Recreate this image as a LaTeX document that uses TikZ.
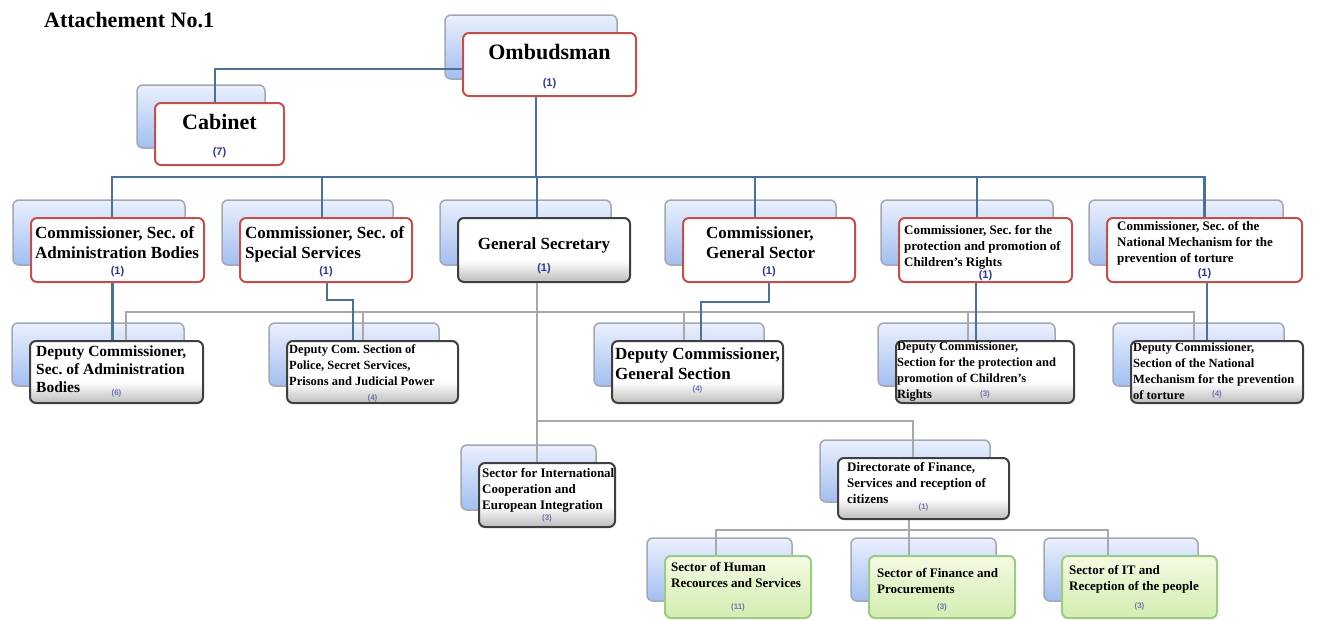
\documentclass[tikz,border=0pt]{standalone}
\usepackage{fontspec}
\setmainfont{Liberation Serif}
\newfontfamily\cntfont{Liberation Sans}
\usetikzlibrary{positioning}

\pgfdeclarelayer{back}
\pgfdeclarelayer{lines}
\pgfsetlayers{back,lines,main}

\definecolor{redline}{HTML}{C0504D}
\definecolor{darkline}{HTML}{3F3F3F}
\definecolor{boxgrey}{HTML}{BDBDBD}
\definecolor{greenline}{HTML}{9CCB86}
\definecolor{greentop}{HTML}{F4FAE3}
\definecolor{greenbot}{HTML}{D3EDB0}
\definecolor{backline}{HTML}{A2A7B3}
\definecolor{backtop}{HTML}{EAF0FD}
\definecolor{backbot}{HTML}{A3BEF0}
\definecolor{linkblue}{HTML}{4C7196}
\definecolor{linkgrey}{HTML}{A9A9A9}
\definecolor{cntblue}{HTML}{2F3A86}

% white box that turns grey towards its bottom edge
\pgfdeclareverticalshading{greyfade}{100bp}{color(0bp)=(boxgrey); color(25bp)=(boxgrey);
    color(42bp)=(white); color(100bp)=(white)}

\begin{document}
\frenchspacing
\begin{tikzpicture}[x=1pt, y=1pt,
    box/.style={rounded corners=6pt, line width=2pt, inner sep=0pt},
    redbox/.style={box, draw=redline, fill=white},
    greybox/.style={box, draw=darkline, shading=greyfade},
    greenbox/.style={box, draw=greenline, top color=greentop, bottom color=greenbot},
    backbox/.style={rounded corners=6pt, line width=1.5pt, draw=backline, top color=backtop, bottom color=backbot},
    blueline/.style={draw=linkblue, line width=2.4pt},
    greyline/.style={draw=linkgrey, line width=2pt},
    big/.style={font=\fontsize{22}{26}\selectfont\bfseries, inner sep=0pt},
    mid/.style={font=\fontsize{17}{20}\selectfont\bfseries, inner sep=0pt, align=left},
    small/.style={font=\fontsize{13}{16}\selectfont\bfseries, inner sep=0pt, align=left},
    cnt/.style={font=\cntfont\fontsize{11}{12}\selectfont\bfseries, text=cntblue, inner sep=0pt},
    tinycnt/.style={font=\cntfont\fontsize{8}{9}\selectfont\bfseries, text=cntblue!70, inner sep=0pt}
]

    \useasboundingbox (0,0) rectangle (1318,-619);

    % Title
    \node[big, anchor=base west] (title) at (44,-27) {Attachement No.1};

    % Top level
    \node[redbox, minimum width=173, minimum height=63] (omb) at (549.5,-64.5) {};
    \node[big, below=12pt of omb.north] (ombT) {Ombudsman};
    \node[cnt, above=8pt of omb.south] (ombN) {(1)};

    \node[redbox, minimum width=129, minimum height=62] (cab) at (219.5,-134) {};
    \node[big, below=12pt of cab.north] (cabT) {Cabinet};
    \node[cnt, above=8pt of cab.south] (cabN) {(7)};

    % Commissioners and General Secretary
    \node[redbox, minimum width=173, minimum height=64] (c1) at (117.5,-250) {};
    \node[mid, below right=9pt and 5pt of c1.north west] (c1T) {Commissioner, Sec. of\\Administration Bodies};
    \node[cnt, above=6pt of c1.south] (c1N) {(1)};

    \node[redbox, minimum width=172, minimum height=64] (c2) at (326,-250) {};
    \node[mid, below right=9pt and 6pt of c2.north west] (c2T) {Commissioner, Sec. of\\Special Services};
    \node[cnt, above=6pt of c2.south] (c2N) {(1)};

    \node[greybox, minimum width=172, minimum height=64] (gs) at (544,-250) {};
    \node[mid, below=20pt of gs.north] (gsT) {General Secretary};
    \node[cnt, above=9pt of gs.south] (gsN) {(1)};

    \node[redbox, minimum width=172, minimum height=64] (c4) at (769,-250) {};
    \node[mid, below right=9pt and 24pt of c4.north west] (c4T) {Commissioner,\\General Sector};
    \node[cnt, above=6pt of c4.south] (c4N) {(1)};

    \node[redbox, minimum width=173, minimum height=64] (c5) at (985.5,-250) {};
    \node[small, below right=8pt and 6pt of c5.north west] (c5T) {Commissioner, Sec. for the\\protection and promotion of\\Children's Rights};
    \node[cnt, above=2pt of c5.south] (c5N) {(1)};

    \node[redbox, minimum width=195, minimum height=64] (c6) at (1204.5,-250) {};
    \node[small, below right=4pt and 11pt of c6.north west] (c6T) {Commissioner, Sec. of the\\National Mechanism for the\\prevention of torture};
    \node[cnt, above=4pt of c6.south] (c6N) {(1)};

    % Deputies
    \node[greybox, minimum width=173, minimum height=62] (d1) at (116.5,-372) {};
    \node[font=\fontsize{15.5}{18}\selectfont\bfseries, inner sep=0pt, align=left, below right=6pt and 7pt of d1.north west] (d1T) {Deputy Commissioner,\\Sec. of Administration\\Bodies};
    \node[tinycnt, above=7pt of d1.south] (d1N) {(6)};

    \node[greybox, minimum width=171, minimum height=62] (d2) at (372.5,-372) {};
    \node[small, font=\fontsize{12.5}{16}\selectfont\bfseries, below right=4pt and 3pt of d2.north west] (d2T) {Deputy Com. Section of\\Police, Secret Services,\\Prisons and Judicial Power};
    \node[tinycnt, above=2pt of d2.south] (d2N) {(4)};

    \node[greybox, minimum width=171, minimum height=62] (d3) at (697.5,-372) {};
    \node[mid, below right=7pt and 4pt of d3.north west] (d3T) {Deputy Commissioner,\\General Section};
    \node[tinycnt, above=11pt of d3.south] (d3N) {(4)};

    \node[greybox, minimum width=178, minimum height=62] (d4) at (985,-372) {};
    \node[small, font=\fontsize{12.5}{16}\selectfont\bfseries, below right=1.5pt and 2pt of d4.north west] (d4T) {Deputy Commissioner,\\Section for the protection and\\promotion of Children's\\Rights};
    \node[tinycnt, above=6pt of d4.south] (d4N) {(3)};

    \node[greybox, minimum width=172, minimum height=62] (d5) at (1217,-372) {};
    \node[small, font=\fontsize{12.5}{16}\selectfont\bfseries, below right=2.5pt and 3pt of d5.north west] (d5T) {Deputy Commissioner,\\Section of the National\\Mechanism for the prevention\\of torture};
    \node[tinycnt, above=6pt of d5.south] (d5N) {(4)};

    % Under the General Secretary
    \node[greybox, minimum width=136, minimum height=64] (intl) at (547,-495) {};
    \node[small, below right=6pt and 4pt of intl.north west] (intlT) {Sector for International\\Cooperation and\\European Integration};
    \node[tinycnt, above=6pt of intl.south] (intlN) {(3)};

    \node[greybox, minimum width=171, minimum height=61] (dir) at (923.5,-488.5) {};
    \node[small, below right=5pt and 10pt of dir.north west] (dirT) {Directorate of Finance,\\Services and reception of\\citizens};
    \node[tinycnt, above=9pt of dir.south] (dirN) {(1)};

    % Sectors of the Directorate
    \node[greenbox, minimum width=146, minimum height=62] (hr) at (738,-587) {};
    \node[small, below right=7.5pt and 7pt of hr.north west] (hrT) {Sector of Human\\Recources and Services};
    \node[tinycnt, above=8pt of hr.south] (hrN) {(11)};

    \node[greenbox, minimum width=146, minimum height=62] (fin) at (942,-587) {};
    \node[small, below right=13.5pt and 9pt of fin.north west] (finT) {Sector of Finance and\\Procurements};
    \node[tinycnt, above=8pt of fin.south] (finN) {(3)};

    \node[greenbox, minimum width=155, minimum height=62] (it) at (1139.5,-587) {};
    \node[small, below right=10.5pt and 8pt of it.north west] (itT) {Sector of IT and\\Reception of the people};
    \node[tinycnt, above=9pt of it.south] (itN) {(3)};

    % Blue boxes behind
    \begin{pgfonlayer}{back}
        \foreach \n in {omb,cab,c1,c2,gs,c4,c5,c6,d1,d2,d3,d4,d5,intl,dir,hr,fin,it}
            \path[backbox] ([shift={(-17,18)}]\n.south west) rectangle ([shift={(-20,17)}]\n.north east);
    \end{pgfonlayer}

    % Connectors
    \coordinate (bus1) at (536,-177);
    \coordinate (bus2) at (537,-312);
    \coordinate (bus3) at (537,-421);
    \coordinate (bus4) at (909,-530);

    \begin{pgfonlayer}{lines}
        % grey links
        \draw[greyline] ([xshift=-7]gs.south) -- (bus3) -| ([xshift=-10.5]dir.north);
        \draw[greyline] (bus3) -- ([xshift=-10]intl.north);
        \foreach \n/\dx in {d1/9.5,d2/-9.5,d3/-13.5,d4/-17,d5/-23}
            \draw[greyline] (bus2) -| ([xshift=\dx]\n.north);
        \draw[greyline] ([xshift=-14.5]dir.south) -- (bus4);
        \foreach \n/\dx in {hr/-22,fin/-33,it/-31.5}
            \draw[greyline] (bus4) -| ([xshift=\dx]\n.north);

        % blue links
        \draw[blueline] ([yshift=-4.5]omb.west) -| ([xshift=-4.5]cab.north);
        \draw[blueline] (omb.south -| bus1) -- (bus1);
        \foreach \n/\dx in {c1/-5.5,c2/-4,gs/-7,c4/-14,c5/-8.5,c6/0}
            \draw[blueline] (bus1) -| ([xshift=\dx]\n.north);
        \draw[blueline] ([xshift=-5]c1.south) -- ([xshift=-4]d1.north);
        \draw[blueline] ([xshift=1]c2.south) -- ++(0,-17) -| ([xshift=-19.5]d2.north);
        \draw[blueline] (c4.south) -- ++(0,-19) -| ([xshift=3.5]d3.north);
        \draw[blueline] ([xshift=-9.5]c5.south) -- ([xshift=-9]d4.north);
        \draw[blueline] ([xshift=2.5]c6.south) -- ([xshift=-10]d5.north);
    \end{pgfonlayer}

\end{tikzpicture}
\end{document}
